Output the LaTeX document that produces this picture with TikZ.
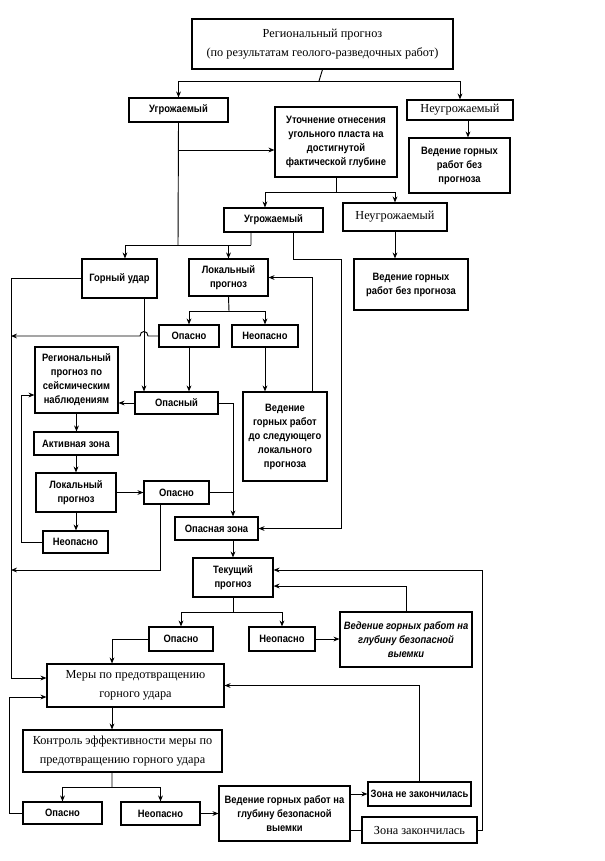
\documentclass[tikz,border=0pt]{standalone}
\usepackage{fontspec}
\setmainfont{Liberation Serif}
\newfontfamily\bsf[FakeStretch=0.88]{Liberation Sans}
\usetikzlibrary{arrows.meta}
\newcommand\mkbox[7]{%
  \pgfmathsetmacro\bxw{(#4-#2)*0.75}%
  \pgfmathsetmacro\bxh{(#5-#3)*0.75}%
  \node[#6, minimum width=\bxw pt, minimum height=\bxh pt] (#1) at ({(#2+#4)/2},{(#3+#5)/2}) {#7};}
\begin{document}
\begin{tikzpicture}[x=0.75pt,y=-0.75pt,
  box/.style={draw, line width=0.8pt, align=center, inner sep=1pt},
  sb/.style={box, font=\bsf\bfseries\fontsize{8}{10.5}\selectfont},
  sbi/.style={box, font=\bsf\bfseries\itshape\fontsize{8}{10.5}\selectfont},
  sr/.style={box, font=\fontsize{9.2}{14}\selectfont},
  ln/.style={line width=0.7pt},
  arr/.style={ln, -{Stealth[length=4.5pt,width=3.6pt]}}]
\fill[white] (0,0) rectangle (605,861);
\useasboundingbox (0,0) rectangle (605,861);

% boxes
\mkbox{T}{192}{19}{453}{69}{sr}{Региональный прогноз\\(по результатам геолого-разведочных работ)}
\mkbox{U1}{129}{98}{228}{122}{sb}{Угрожаемый}
\mkbox{N1}{407}{100}{513}{120}{sr}{Неугрожаемый}
\mkbox{Ut}{275}{107}{397}{177}{sb}{Уточнение отнесения\\угольного пласта на\\достигнутой\\фактической глубине}
\mkbox{V1}{409}{138}{510}{193}{sb}{Ведение горных\\работ без\\прогноза}
\mkbox{U2}{224}{208}{323}{232}{sb}{Угрожаемый}
\mkbox{N2}{343}{203}{447}{231}{sr}{Неугрожаемый}
\mkbox{V2}{354}{259}{468}{310}{sb}{Ведение горных\\работ без прогноза}
\mkbox{GU}{82}{259}{157}{298}{sb}{Горный удар}
\mkbox{LP1}{189}{259}{268}{296}{sb}{Локальный\\прогноз}
\mkbox{O1}{159}{325}{219}{347}{sb}{Опасно}
\mkbox{NO1}{232}{325}{298}{347}{sb}{Неопасно}
\mkbox{RS}{35}{347}{118}{413}{sb}{Региональный\\прогноз по\\сейсмическим\\наблюдениям}
\mkbox{OP}{135}{392}{218}{414}{sb}{Опасный}
\mkbox{VL}{243}{392}{327}{481}{sb}{Ведение\\горных работ\\до следующего\\локального\\прогноза}
\mkbox{AZ}{34}{432}{118}{455}{sb}{Активная зона}
\mkbox{LP2}{36}{473}{116}{512}{sb}{Локальный\\прогноз}
\mkbox{O2}{144}{481}{209}{504}{sb}{Опасно}
\mkbox{NO2}{43}{531}{108}{553}{sb}{Неопасно}
\mkbox{OZ}{175}{517}{258}{540}{sb}{Опасная зона}
\mkbox{TP}{193}{558}{273}{597}{sb}{Текущий\\прогноз}
\mkbox{O3}{149}{627}{213}{651}{sb}{Опасно}
\mkbox{NO3}{249}{627}{315}{651}{sb}{Неопасно}
\mkbox{V3}{340}{612}{472}{667}{sbi}{Ведение горных работ на\\глубину безопасной\\выемки}
\mkbox{M}{47}{664}{224}{707}{sr}{Меры по предотвращению\\горного удара}
\mkbox{K}{23}{730}{222}{772}{sr}{Контроль эффективности меры по\\предотвращению горного удара}
\mkbox{O4}{23}{802}{102}{824}{sb}{Опасно}
\mkbox{NO4}{121}{802}{200}{825}{sb}{Неопасно}
\mkbox{V4}{219}{786}{350}{841}{sb}{Ведение горных работ на\\глубину безопасной\\выемки}
\mkbox{ZN}{368}{782}{471}{806}{sb}{Зона не закончилась}
\mkbox{ZZ}{362}{817}{477}{843}{sr}{Зона закончилась}

% junction coordinates
\coordinate (j1) at (319,81);
\coordinate (j3) at (178,245);
\coordinate (a2) at (178,150);
\coordinate (j4) at (336,192);
\coordinate (j5) at (251,245);
\coordinate (r1) at (341,259);
\coordinate (lft1) at (11,678);
\coordinate (j6) at (229,311);
\coordinate (jmpR) at (148,336);
\coordinate (jmpL) at (140,336);
\coordinate (lft2) at (11,336);
\coordinate (lft3) at (11,570);
\coordinate (l4) at (21,395);
\coordinate (r2) at (482,570);
\coordinate (j7) at (233,612);
\coordinate (j8) at (112,787);
\coordinate (l5) at (9,697);

% connectors
\draw[ln] (T.south) -- (j1);
\draw[arr] (j1) -| (U1.north);
\draw[arr] (j1) -| (N1.north);
\draw[ln] (U1.south) -- (j3);
\draw[arr] (a2) -- (a2 -| Ut.west);
\draw[arr] ([xshift=6pt]N1.south) -- ([xshift=6pt]N1.south |- V1.north);
\draw[ln] (Ut.south) -- (j4);
\draw[arr] (j4) -| ([xshift=-6.4pt]U2.north);
\draw[arr] (j4) -| (N2.north);
\draw[ln] ([xshift=-16.9pt]U2.south) -- (j5);
\draw[arr] (j5) -| ([xshift=4.1pt]GU.north);
\draw[arr] (j5 -| LP1.north) -- (LP1.north);
\draw[arr] ([xshift=14.6pt]U2.south) |- (r1) |- (OZ.east);
\draw[arr] (N2.south) -- (N2.south |- V2.north);
\draw[arr] (GU.west) -| (lft1) -- (lft1 -| M.west);
\draw[arr] ([xshift=18.4pt]GU.south) -- ([xshift=18.4pt]GU.south |- OP.north);
\draw[arr] ([xshift=20.25pt]VL.north) |- (LP1.east);
\draw[ln] (LP1.south) -- (j6);
\draw[arr] (j6) -| (O1.north);
\draw[arr] (j6) -| (NO1.north);
\draw[arr] (O1.west) -- (jmpR) .. controls +(0,-6) and +(0,-6) .. (jmpL) -- (lft2);
\draw[arr] (O1.south) -- (O1.south |- OP.north);
\draw[arr] (NO1.south) -- (NO1.south |- VL.north);
\draw[arr] (OP.west) -- (OP.west -| RS.east);
\draw[arr] (OP.east) -| ([xshift=12.4pt]OZ.north);
\draw[arr] (RS.south) -- (RS.south |- AZ.north);
\draw[arr] (AZ.south) -- (AZ.south |- LP2.north);
\draw[arr] (LP2.east) -- (LP2.east -| O2.west);
\draw[ln] (O2.east) -- ([xshift=12.4pt]OZ.north |- O2.east);
\draw[arr] ([xshift=-12.4pt]O2.south) |- (lft3);
\draw[arr] (LP2.south) -- (LP2.south |- NO2.north);
\draw[arr] (NO2.west) -| (l4) -- (l4 -| RS.west);
\draw[arr] (TP.north |- OZ.south) -- (TP.north);
\draw[arr] (ZZ.east) -| (r2) -- (r2 -| TP.east);
\draw[arr] (V3.north) |- ([yshift=-6.4pt]TP.east);
\draw[ln] (TP.south) -- (j7);
\draw[arr] (j7) -| (O3.north);
\draw[arr] (j7) -| (NO3.north);
\draw[arr] (NO3.east) -- (NO3.east -| V3.west);
\draw[arr] (O3.west) -| ([xshift=-17.6pt]M.north);
\draw[arr] (ZN.north) |- (M.east);
\draw[arr] ([xshift=-17.6pt]M.south) -- ([xshift=-17.6pt]M.south |- K.north);
\draw[ln] ([xshift=-7.9pt]K.south) -- (j8);
\draw[arr] (j8) -| (O4.north);
\draw[arr] (j8) -| (NO4.north);
\draw[arr] (NO4.east) -- (NO4.east -| V4.west);
\draw[arr] (ZN.west -| V4.east) -- (ZN.west);
\draw[ln] (ZZ.west -| V4.east) -- (ZZ.west);
\draw[arr] (O4.west) -| (l5) -- (l5 -| M.west);
\end{tikzpicture}
\end{document}
